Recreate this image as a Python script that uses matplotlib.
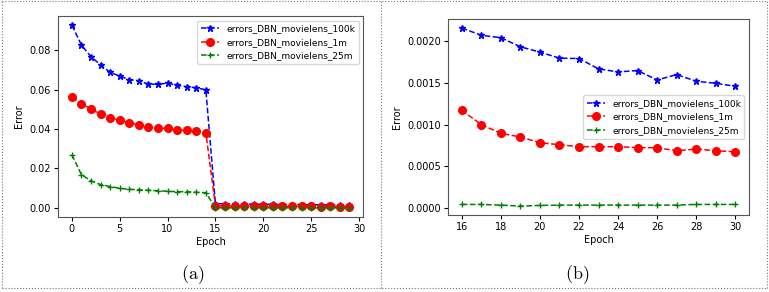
import numpy as np
import matplotlib.pyplot as plt
from matplotlib.lines import Line2D

# Panel (a): epochs 0..29
epochs_a = np.arange(0, 30)
err_100k_head = [0.0926, 0.0826, 0.0766, 0.0725, 0.0687, 0.0668, 0.0650, 0.0644,
                 0.0627, 0.0627, 0.0632, 0.0622, 0.0614, 0.0609, 0.0598]
err_1m_head = [0.0561, 0.0528, 0.0501, 0.0475, 0.0458, 0.0444, 0.0431, 0.0421,
               0.0410, 0.0405, 0.0403, 0.0393, 0.0393, 0.0388, 0.0381]
err_25m_head = [0.0270, 0.0168, 0.0137, 0.0118, 0.0108, 0.0099, 0.0094, 0.0092,
                0.0089, 0.0087, 0.0084, 0.0082, 0.0082, 0.0079, 0.0077]

# Panel (b): epochs 16..30 (tail of the same runs)
epochs_b = np.arange(16, 31)
err_100k_tail = [0.002161, 0.002073, 0.002044, 0.001935, 0.001871, 0.001798, 0.001794,
                 0.001669, 0.001633, 0.001649, 0.001536, 0.001601, 0.001520, 0.001496,
                 0.001460]
err_1m_tail = [0.001173, 0.001000, 0.000895, 0.000851, 0.000782, 0.000758, 0.000734,
               0.000734, 0.000734, 0.000722, 0.000722, 0.000685, 0.000706, 0.000685,
               0.000673]
err_25m_tail = [0.000040, 0.000040, 0.000032, 0.000020, 0.000028, 0.000032, 0.000032,
                0.000032, 0.000032, 0.000032, 0.000032, 0.000032, 0.000040, 0.000040,
                0.000040]

labels = ['errors_DBN_movielens_100k', 'errors_DBN_movielens_1m', 'errors_DBN_movielens_25m']
styles = [('b', '*', 5), ('r', 'o', 5.5), ('g', '+', 5)]

plt.rcParams['mathtext.fontset'] = 'cm'

fig = plt.figure(figsize=(7.69, 2.92), dpi=100)
ax1 = fig.add_axes([0.0754, 0.257, 0.397, 0.688])
ax2 = fig.add_axes([0.5826, 0.2637, 0.3914, 0.671])

series_a = [err_100k_head + err_100k_tail, err_1m_head + err_1m_tail, err_25m_head + err_25m_tail]
series_b = [err_100k_tail, err_1m_tail, err_25m_tail]

for ys, lab, (c, m, ms) in zip(series_a, labels, styles):
    ax1.plot(epochs_a, ys, '--', color=c, marker=m, markersize=ms, linewidth=1.1, label=lab)
for ys, lab, (c, m, ms) in zip(series_b, labels, styles):
    ax2.plot(epochs_b, ys, '--', color=c, marker=m, markersize=ms, linewidth=1.1, label=lab)

ax1.set_xticks([0, 5, 10, 15, 20, 25, 30])
ax1.legend(loc='upper right', fontsize=6.5)
ax2.set_xticks(range(16, 31, 2))
ax2.set_yticks([0, 0.0005, 0.001, 0.0015, 0.002])
ax2.yaxis.set_major_formatter(plt.FormatStrFormatter('%.4f'))
ax2.legend(loc='center right', fontsize=6.5)

for ax in (ax1, ax2):
    ax.set_xlabel('Epoch', fontsize=7, labelpad=2)
    ax.set_ylabel('Error', fontsize=7)
    ax.tick_params(labelsize=7, length=3, pad=2)
    for s in ax.spines.values():
        s.set_color('#555555')

fig.text(0.25, 0.045, r'$\mathrm{(a)}$', fontsize=13, ha='center')
fig.text(0.751, 0.045, r'$\mathrm{(b)}$', fontsize=13, ha='center')

# dotted frames around the two panels
border = dict(color='#777777', linestyle=':', linewidth=0.8, transform=fig.transFigure)
x0, x1, xm = 0.002, 0.997, 0.496
y0, y1 = 0.012, 0.995
fig.add_artist(Line2D([x0, x1], [y1, y1], **border))
fig.add_artist(Line2D([x0, x1], [y0, y0], **border))
fig.add_artist(Line2D([x0, x0], [y0, y1], **border))
fig.add_artist(Line2D([x1, x1], [y0, y1], **border))
fig.add_artist(Line2D([xm, xm], [y0, y1], **border))

fig.savefig('out.png', dpi=100)
